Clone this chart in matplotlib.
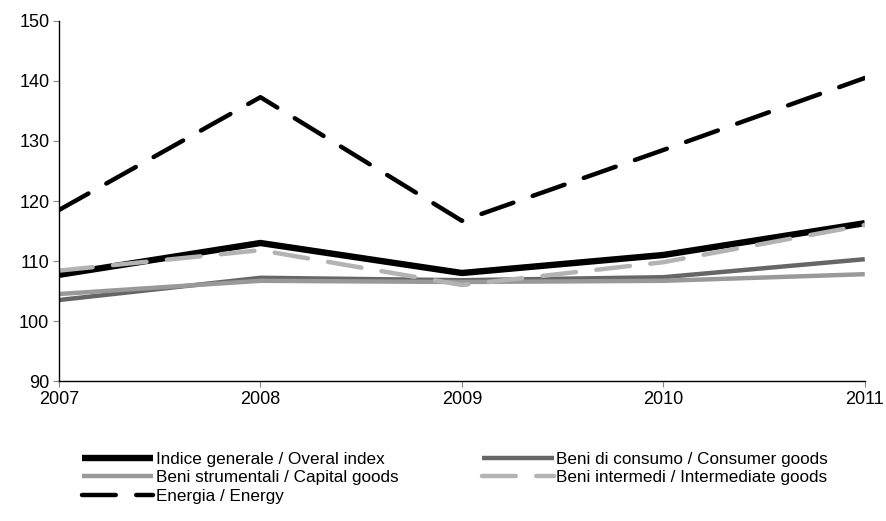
import matplotlib.pyplot as plt

years = [2007, 2008, 2009, 2010, 2011]

indice = [107.7, 113.0, 108.0, 111.0, 116.3]
consumo = [103.5, 107.2, 106.8, 107.3, 110.3]
strumentali = [104.5, 106.7, 106.5, 106.7, 107.8]
intermedi = [108.4, 111.8, 106.0, 109.8, 116.0]
energia = [118.5, 137.3, 116.7, 128.5, 140.5]

plt.rcParams['font.family'] = ['Liberation Sans', 'DejaVu Sans']

fig = plt.figure(figsize=(8.86, 5.21), dpi=100)
ax = fig.add_axes([0.0666, 0.2687, 0.9094, 0.691])

l1, = ax.plot(years, indice, color='black', lw=4.6, solid_capstyle='butt',
              label='Indice generale / Overal index')
l2, = ax.plot(years, consumo, color='#666666', lw=3.2, solid_capstyle='butt',
              label='Beni di consumo / Consumer goods')
l3, = ax.plot(years, strumentali, color='#999999', lw=3.2, solid_capstyle='butt',
              label='Beni strumentali / Capital goods')
l4, = ax.plot(years, intermedi, color='#b3b3b3', lw=3.2, dashes=(7.6, 4.6),
              dash_capstyle='round', label='Beni intermedi / Intermediate goods')
l5, = ax.plot(years, energia, color='black', lw=3.2, dashes=(7.6, 4.6),
              dash_capstyle='round', label='Energia / Energy')

ax.set_xlim(2007, 2011)
ax.set_ylim(90, 150)
ax.set_xticks(years)
ax.set_yticks(range(90, 151, 10))
ax.tick_params(axis='both', labelsize=13, length=4, width=0.8, color='#888888', pad=3)
ax.spines['top'].set_visible(False)
ax.spines['right'].set_visible(False)
ax.spines['left'].set_linewidth(1)
ax.spines['bottom'].set_linewidth(1)

fig.legend([l1, l3, l5, l2, l4],
           [l1.get_label(), l3.get_label(), l5.get_label(), l2.get_label(), l4.get_label()],
           loc='upper left', bbox_to_anchor=(0.092, 0.133), ncol=2, frameon=False,
           fontsize=12.3, handlelength=4.2, handletextpad=0.15,
           columnspacing=4.9, labelspacing=0.2, borderaxespad=0, borderpad=0)

fig.savefig('out.png', dpi=100)
